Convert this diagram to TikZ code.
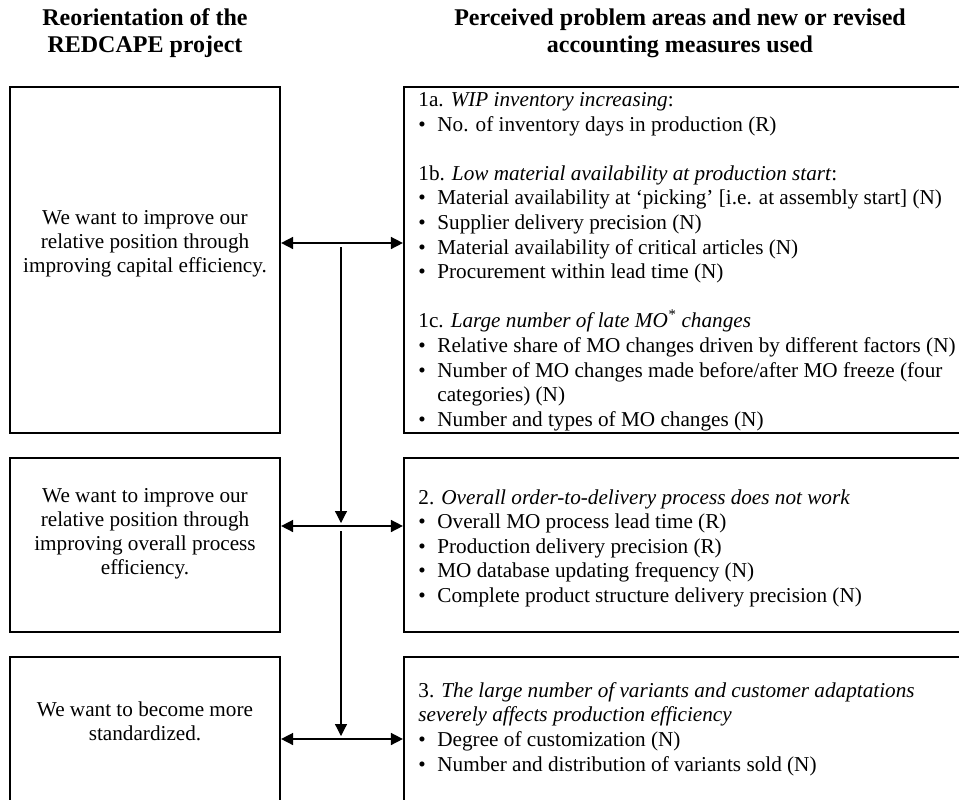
\documentclass[tikz,border=0pt]{standalone}
\usepackage{fontspec}
\setmainfont{Liberation Serif}
\usetikzlibrary{arrows.meta,fit}

\newcommand{\itembul}{\makebox[9.5pt][l]{\textbullet}}

\begin{document}
\begin{tikzpicture}[x=0.5pt, y=-0.5pt,
    box/.style={draw=black, line width=1.1pt, inner sep=0pt},
    goal/.style={align=center, font=\fontsize{10.6}{12}\selectfont, inner sep=0pt},
    measures/.style={align=left, anchor=north west, font=\fontsize{10.6}{12.3}\selectfont, inner sep=0pt},
    heading/.style={align=center, font=\fontsize{12}{13.5}\selectfont\bfseries, inner sep=0pt},
    link/.style={line width=0.8pt, {Triangle[length=6pt,width=6pt]}-{Triangle[length=6pt,width=6pt]}},
    feed/.style={line width=0.6pt, -{Triangle[length=6pt,width=6pt]}}
]
    \useasboundingbox (0,0) rectangle (959,799);
    % headings
    \node[heading] (h1) at (145,33) {Reorientation of the\\REDCAPE project};
    \node[heading] (h2) at (680,33) {Perceived problem areas and new or revised\\accounting measures used};
    % boxes
    \foreach \r/\t/\b in {1/87/433, 2/458/632, 3/657/815} {
        \node[box, fit={(10,\t) (280,\b)}] (L\r) {};
        \node[box, fit={(404,\t) (975,\b)}] (R\r) {};
    }
    % reorientation
    \node[goal] (g1) at (145,244) {We want to improve our\\relative position through\\improving capital efficiency.};
    \node[goal] (g2) at (145,534) {We want to improve our\\relative position through\\improving overall process\\efficiency.};
    \node[goal] (g3) at (145,721) {We want to become more\\standardized.};
    % problem areas and measures
    \node[measures] (m1) at (418,92) {1a. \textit{WIP inventory increasing}:\\
        \itembul No. of inventory days in production (R)\\[12.3pt]
        1b. \textit{Low material availability at production start}:\\
        \itembul Material availability at ‘picking’ [i.e. at assembly start] (N)\\
        \itembul Supplier delivery precision (N)\\
        \itembul Material availability of critical articles (N)\\
        \itembul Procurement within lead time (N)\\[12.3pt]
        1c. \textit{Large number of late MO\textsuperscript{*} changes}\\
        \itembul Relative share of MO changes driven by different factors (N)\\
        \itembul Number of MO changes made before/after MO freeze (four\\
        \hspace*{9.5pt}categories) (N)\\
        \itembul Number and types of MO changes (N)};
    \node[measures] (m2) at (418,489) {2. \textit{Overall order-to-delivery process does not work}\\
        \itembul Overall MO process lead time (R)\\
        \itembul Production delivery precision (R)\\
        \itembul MO database updating frequency (N)\\
        \itembul Complete product structure delivery precision (N)};
    \node[measures] (m3) at (418,682) {3. \textit{The large number of variants and customer adaptations}\\
        \textit{severely affects production efficiency}\\
        \itembul Degree of customization (N)\\
        \itembul Number and distribution of variants sold (N)};
    % connectors
    \coordinate (j1) at (341,243);
    \coordinate (j2) at (341,526);
    \coordinate (j3) at (341,739);
    \draw[link] (L1.east |- j1) -- (R1.west |- j1);
    \draw[link] (L2.east |- j2) -- (R2.west |- j2);
    \draw[link] (L3.east |- j3) -- (R3.west |- j3);
    \draw[feed] ([yshift=-2pt]j1) -- ([yshift=1.5pt]j2);
    \draw[feed] ([yshift=-2.5pt]j2) -- ([yshift=1.5pt]j3);
\end{tikzpicture}
\end{document}
